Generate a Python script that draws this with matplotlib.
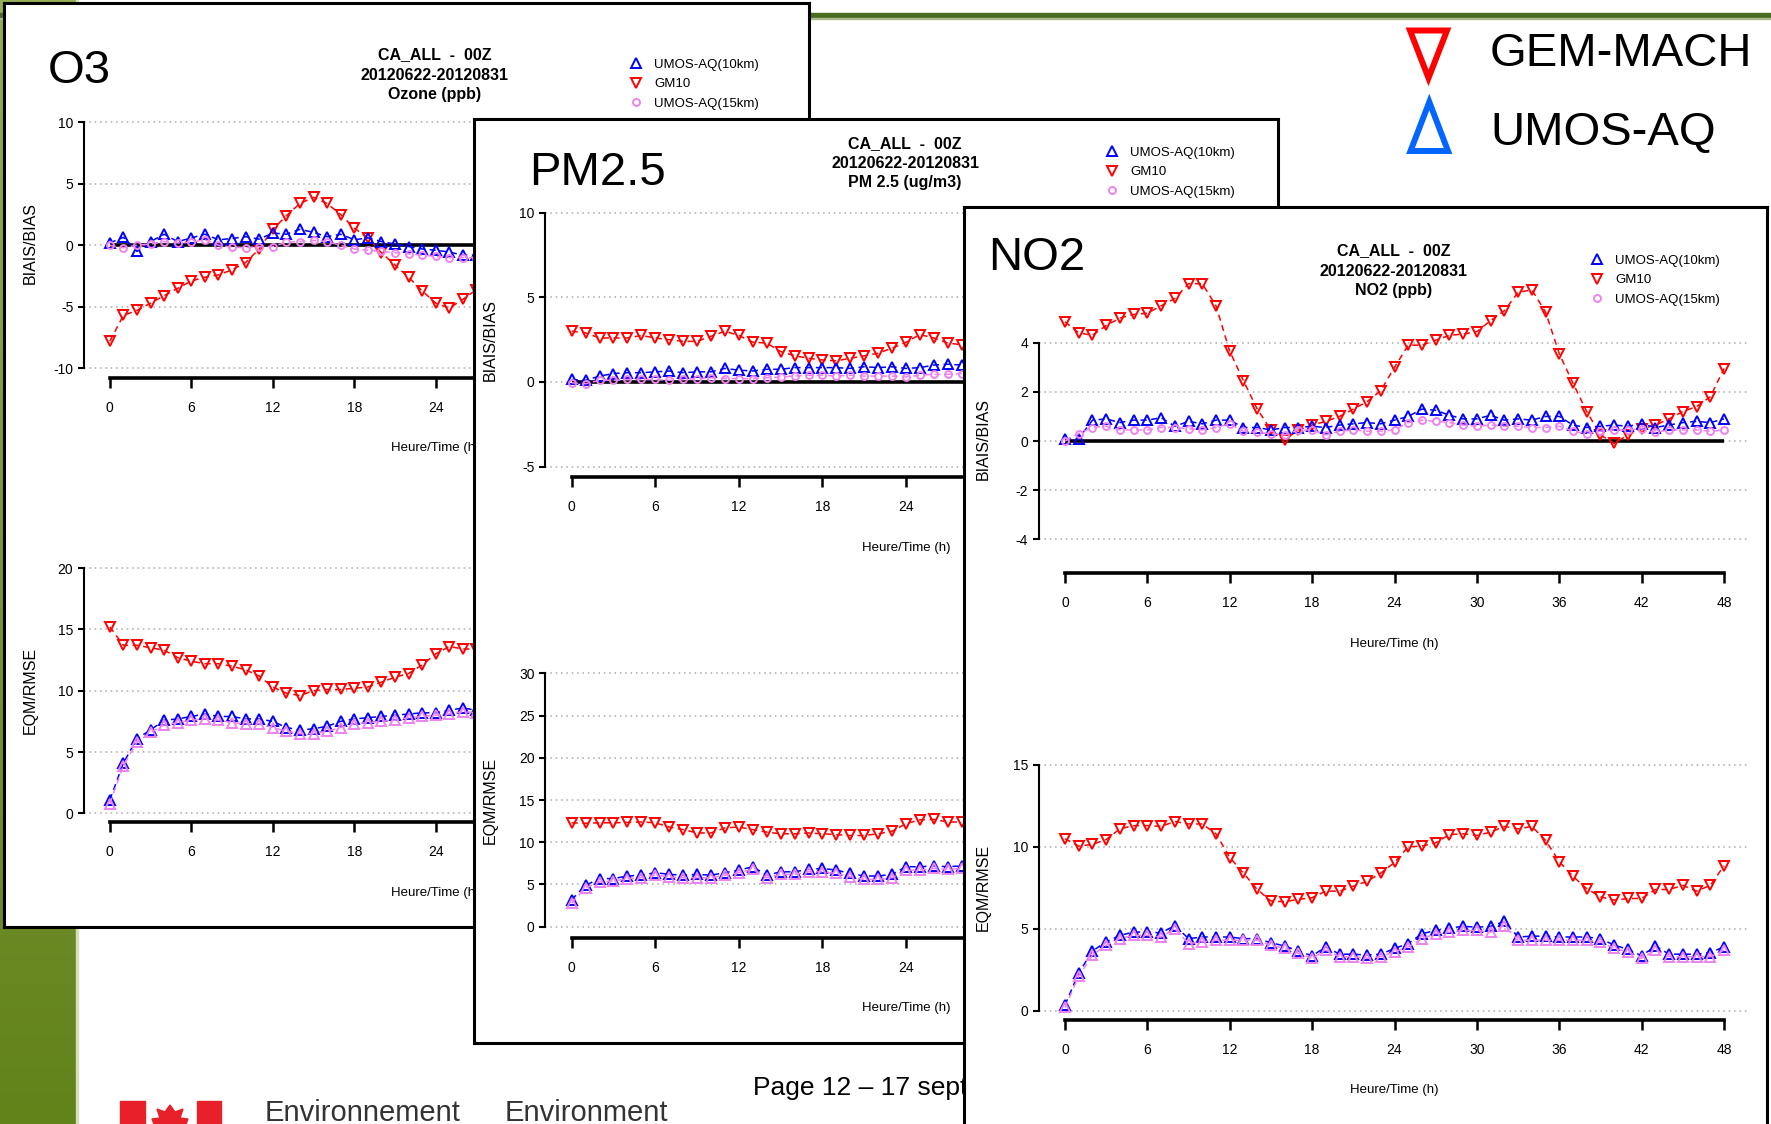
import numpy as np
import matplotlib.pyplot as plt
from matplotlib.patches import Rectangle, Polygon
from matplotlib.lines import Line2D
from matplotlib.colors import LinearSegmentedColormap

plt.rcParams['axes.unicode_minus'] = False
SANS = ['Liberation Sans', 'DejaVu Sans']

# ---- donnees (heures 0..n) ----
o3_bias_gm = [-7.8, -5.7, -5.3, -4.7, -4.1, -3.5, -2.9, -2.6, -2.4, -2.0, -1.4, -0.3, 1.3, 2.4,
              3.4, 3.9, 3.4, 2.5, 1.4, 0.6, -0.6, -1.6, -2.6, -3.7, -4.7, -5.1, -4.4, -3.6]
o3_bias_u10 = [0.2, 0.65, -0.5, 0.3, 0.9, 0.3, 0.6, 0.9, 0.45, 0.55, 0.7, 0.5, 1.0, 0.9,
               1.3, 1.05, 0.7, 0.9, 0.45, 0.6, 0.3, 0.1, -0.1, -0.3, -0.4, -0.55, -0.8, -0.8]
o3_bias_u15 = [0.0, -0.2, 0.0, 0.1, 0.3, 0.2, 0.25, 0.45, 0.0, -0.15, -0.2, -0.1, -0.1, 0.25,
               0.3, 0.4, 0.3, 0.0, -0.3, -0.4, -0.5, -0.6, -0.7, -0.8, -0.9, -1.0, -1.0, -1.0]

o3_rmse_gm = [15.2, 13.7, 13.7, 13.5, 13.3, 12.7, 12.4, 12.2, 12.2, 12.0, 11.7, 11.2, 10.3, 9.8,
              9.6, 10.0, 10.1, 10.1, 10.2, 10.3, 10.7, 11.1, 11.4, 12.1, 13.0, 13.6, 13.4, 13.4]
o3_rmse_u10 = [1.1, 4.1, 6.1, 6.8, 7.6, 7.7, 7.9, 8.1, 7.9, 7.9, 7.7, 7.7, 7.5, 7.0,
               6.8, 6.9, 7.1, 7.5, 7.7, 7.8, 7.9, 8.0, 8.1, 8.2, 8.2, 8.4, 8.6, 8.4]
o3_rmse_u15 = [0.8, 3.9, 5.8, 6.6, 7.2, 7.4, 7.6, 7.7, 7.6, 7.4, 7.3, 7.3, 7.0, 6.7,
               6.5, 6.5, 6.7, 7.0, 7.3, 7.4, 7.5, 7.6, 7.8, 7.9, 8.0, 8.1, 8.3, 8.2]

pm_bias_gm = [3.0, 2.9, 2.6, 2.6, 2.6, 2.75, 2.6, 2.5, 2.4, 2.4, 2.7, 3.0, 2.75, 2.35, 2.3,
              1.8, 1.55, 1.4, 1.3, 1.25, 1.4, 1.55, 1.7, 2.0, 2.35, 2.8, 2.6, 2.3, 2.2]
pm_bias_u10 = [0.15, 0.1, 0.35, 0.5, 0.55, 0.55, 0.6, 0.65, 0.55, 0.6, 0.6, 0.8, 0.7, 0.65, 0.75,
               0.75, 0.85, 0.85, 0.85, 0.85, 0.8, 0.9, 0.85, 0.9, 0.8, 0.85, 1.0, 1.05, 1.0]
pm_bias_u15 = [-0.05, -0.1, 0.1, 0.1, 0.15, 0.15, 0.15, 0.1, 0.15, 0.2, 0.25, 0.2, 0.2, 0.2, 0.25,
               0.3, 0.35, 0.4, 0.4, 0.35, 0.4, 0.35, 0.35, 0.35, 0.3, 0.4, 0.45, 0.45, 0.5]

pm_rmse_gm = [12.3, 12.25, 12.3, 12.3, 12.35, 12.4, 12.3, 11.8, 11.5, 11.1, 11.1, 11.7, 11.8, 11.5, 11.2,
              11.0, 11.0, 11.1, 11.0, 10.9, 10.8, 10.8, 11.0, 11.3, 12.2, 12.65, 12.7, 12.4, 12.4]
pm_rmse_u10 = [3.2, 4.9, 5.7, 5.7, 6.0, 6.1, 6.4, 6.2, 6.1, 6.2, 6.1, 6.4, 6.7, 7.1, 6.1,
               6.5, 6.5, 6.8, 6.9, 6.7, 6.3, 6.0, 6.0, 6.2, 7.1, 7.1, 7.2, 7.1, 7.2]
pm_rmse_u15 = [2.8, 4.6, 5.3, 5.4, 5.7, 5.8, 6.1, 5.9, 5.8, 5.8, 5.8, 6.1, 6.4, 6.8, 5.8,
               6.2, 6.2, 6.5, 6.5, 6.3, 5.9, 5.6, 5.6, 5.8, 6.7, 6.7, 6.9, 6.8, 6.9]

no2_bias_gm = [4.85, 4.4, 4.3, 4.7, 5.0, 5.15, 5.2, 5.5, 5.8, 6.4,
               6.4, 5.5, 3.65, 2.45, 1.3, 0.45, 0.05, 0.45, 0.65, 0.8,
               1.0, 1.3, 1.6, 2.05, 3.0, 3.9, 3.9, 4.1, 4.3, 4.35,
               4.45, 4.9, 5.3, 6.05, 6.15, 5.25, 3.55, 2.35, 1.2, 0.25,
               -0.1, 0.25, 0.5, 0.65, 0.9, 1.2, 1.4, 1.8, 2.95]
no2_bias_u10 = [0.1, 0.1, 0.85, 0.9, 0.75, 0.85, 0.85, 0.95, 0.6, 0.8,
                0.7, 0.85, 0.85, 0.55, 0.55, 0.45, 0.55, 0.55, 0.6, 0.55,
                0.65, 0.7, 0.75, 0.7, 0.85, 1.0, 1.3, 1.25, 1.05, 0.9,
                0.9, 1.05, 0.85, 0.9, 0.85, 1.0, 1.0, 0.65, 0.55, 0.6,
                0.65, 0.6, 0.7, 0.55, 0.65, 0.75, 0.8, 0.75, 0.9]
no2_bias_u15 = [0.0, 0.3, 0.55, 0.6, 0.45, 0.45, 0.45, 0.55, 0.55, 0.5,
                0.45, 0.55, 0.7, 0.4, 0.35, 0.3, 0.25, 0.45, 0.45, 0.25,
                0.4, 0.45, 0.4, 0.4, 0.45, 0.75, 0.85, 0.8, 0.75, 0.65,
                0.6, 0.65, 0.6, 0.6, 0.55, 0.55, 0.6, 0.4, 0.3, 0.4,
                0.45, 0.45, 0.5, 0.35, 0.45, 0.45, 0.45, 0.4, 0.45]

no2_rmse_gm = [10.5, 10.05, 10.15, 10.45, 11.1, 11.3, 11.3, 11.25, 11.55, 11.4,
               11.4, 10.8, 9.35, 8.4, 7.4, 6.7, 6.65, 6.8, 6.9, 7.3,
               7.3, 7.6, 7.9, 8.4, 9.05, 10.0, 10.05, 10.25, 10.75, 10.8,
               10.7, 10.9, 11.25, 11.1, 11.25, 10.4, 9.1, 8.2, 7.45, 6.95,
               6.75, 6.85, 6.85, 7.4, 7.4, 7.65, 7.3, 7.65, 8.85]
no2_rmse_u10 = [0.35, 2.3, 3.65, 4.2, 4.6, 4.8, 4.8, 4.75, 5.2, 4.4,
                4.5, 4.5, 4.5, 4.4, 4.4, 4.15, 3.95, 3.65, 3.35, 3.9,
                3.45, 3.45, 3.4, 3.45, 3.8, 4.1, 4.7, 4.9, 5.05, 5.15,
                5.1, 5.15, 5.45, 4.5, 4.55, 4.55, 4.5, 4.5, 4.5, 4.4,
                4.0, 3.75, 3.35, 3.95, 3.45, 3.45, 3.45, 3.55, 3.9]
no2_rmse_u15 = [0.2, 2.1, 3.4, 4.0, 4.4, 4.6, 4.6, 4.5, 5.0, 4.1,
                4.2, 4.3, 4.3, 4.3, 4.3, 4.0, 3.8, 3.5, 3.2, 3.7,
                3.3, 3.3, 3.2, 3.3, 3.6, 3.9, 4.4, 4.7, 4.8, 4.9,
                4.9, 4.8, 5.2, 4.3, 4.3, 4.3, 4.3, 4.3, 4.3, 4.2,
                3.8, 3.6, 3.2, 3.7, 3.3, 3.3, 3.3, 3.3, 3.7]

x_ticks = [0, 6, 12, 18, 24, 30, 36, 42, 48]
legend_labels = ['UMOS-AQ(10km)', 'GM10', 'UMOS-AQ(15km)']
title_l1 = 'CA_ALL  -  00Z'
title_l2 = '20120622-20120831'

RED, BLUE, VIOLET = '#ff0000', '#0000ff', '#ee82ee'
XLIM = (-1.92, 49.92)
W, H = 1771, 1124

fig = plt.figure(figsize=(W / 100, H / 100), dpi=100)


def px_box(l, t, r, b):
    return [l / W, 1 - b / H, (r - l) / W, (b - t) / H]


def panel(l, t, r, b):
    """cadre blanc d'une capture d'ecran, en coordonnees pixels"""
    ax = fig.add_axes(px_box(l, t, r, b))
    ax.set_xlim(l, r); ax.set_ylim(b, t)
    ax.set_xticks([]); ax.set_yticks([])
    ax.set_facecolor('white')
    for s in ax.spines.values():
        s.set_linewidth(2.2)
    return ax


def data_axes(x0, pph, v_ref, y_ref, ppv, y_axis, ymax, yticks):
    """axes style R: x0 = pixel de h=0, pph = pixels/heure, y_axis = ligne de l'axe x"""
    left = x0 + XLIM[0] * pph
    right = x0 + XLIM[1] * pph
    top = y_ref - (ymax - v_ref) * ppv
    ymin = v_ref - (y_axis - y_ref) / ppv
    ax = fig.add_axes(px_box(left, top, right, y_axis))
    ax.set_xlim(XLIM); ax.set_ylim(ymin, ymax)
    ax.set_facecolor('none')
    ax.spines['top'].set_visible(False)
    ax.spines['right'].set_visible(False)
    ax.spines['left'].set_bounds(yticks[0], yticks[-1])
    ax.spines['left'].set_linewidth(1.5)
    ax.spines['bottom'].set_bounds(0, 48)
    ax.spines['bottom'].set_linewidth(2.6)
    ax.set_xticks(x_ticks)
    ax.set_yticks(yticks)
    ax.tick_params(axis='x', length=7.5, width=1.8, pad=9, labelsize=10, labelfontfamily=SANS)
    ax.tick_params(axis='y', length=4.5, width=1.5, pad=3, labelsize=10, labelfontfamily=SANS)
    for v in yticks:
        ax.axhline(v, color='#aaaaaa', ls=(0, (1, 2.5)), lw=1.1, zorder=0)
    return ax


def draw_series(ax, gm, u10, u15, rmse=False):
    hours = np.arange(len(gm))
    if not rmse:
        ax.hlines(0, 0, 48, color='black', lw=2.6, zorder=1)
    kw = dict(ls=(0, (4, 3)), lw=1.1, mfc='none', mew=1.4, zorder=3)
    ax.plot(hours, gm, color=RED, marker='v', ms=7, **kw)
    ax.plot(hours, u10, color=BLUE, marker='^', ms=7, **kw)
    if rmse:
        ax.plot(hours, u15, color=VIOLET, marker='^', ms=7, **kw)
    else:
        ax.plot(hours, u15, color=VIOLET, marker='o', ms=5, **kw)


def panel_text(p, name, name_x, name_y, tx, ty, subtitle, lx, ly, ylab_x, ylab_y, xlab_x, xlab_y):
    p.text(name_x, name_y, name, fontsize=34, family=SANS, ha='left', va='baseline')
    for y, s in zip(ty, [title_l1, title_l2, subtitle]):
        p.text(tx, y, s, fontsize=11.5, family=SANS, fontweight='bold', ha='center', va='baseline')
    handles = [Line2D([], [], color=BLUE, marker='^', ls='none', mfc='none', mew=1.4, ms=7),
               Line2D([], [], color=RED, marker='v', ls='none', mfc='none', mew=1.4, ms=7),
               Line2D([], [], color=VIOLET, marker='o', ls='none', mfc='none', mew=1.4, ms=5)]
    p.legend(handles, legend_labels, loc='upper left', bbox_to_anchor=(lx, ly),
             bbox_transform=p.transData, frameon=False, borderpad=0, borderaxespad=0,
             handlelength=1.1, handletextpad=0.8, labelspacing=0.55,
             prop={'family': SANS, 'size': 9.5})
    for y, s in zip(ylab_y, ['BIAIS/BIAS', 'EQM/RMSE']):
        p.text(ylab_x, y, s, rotation=90, fontsize=11.5, family=SANS, ha='center', va='center')
    for y in xlab_y:
        p.text(xlab_x, y, 'Heure/Time (h)', fontsize=9.5, family=SANS, ha='center', va='center')


# ---- fond de la diapositive ----
bg = fig.add_axes([0, 0, 1, 1])
bg.set_xlim(0, W); bg.set_ylim(H, 0); bg.axis('off')
green = LinearSegmentedColormap.from_list('g', ['#94ad52', '#7a9636', '#62821a'])
bg.imshow(np.linspace(0, 1, 256)[:, None], cmap=green, extent=(0, 76, H, 0), aspect='auto')
bg.add_patch(Rectangle((76, 0), 2, H, color='#d6e0b8'))
bg.add_patch(Rectangle((0, 12.5), W, 5, color='#4b6b23'))
bg.add_patch(Rectangle((0, 17.5), W, 1, color='#a9bb8c'))
bg.set_xlim(0, W); bg.set_ylim(H, 0)

# legende generale
bg.add_patch(Polygon([(1410, 30.5), (1447, 30.5), (1428.5, 78)], closed=True, fill=False,
                     ec='#ff0000', lw=4.3, joinstyle='miter'))
bg.add_patch(Polygon([(1410.5, 151), (1448, 151), (1429.3, 102)], closed=True, fill=False,
                     ec='#0066ff', lw=4.3, joinstyle='miter'))
bg.text(1490, 66.5, 'GEM-MACH', fontsize=34, family=SANS, ha='left', va='baseline')
bg.text(1490, 144.5, 'UMOS-AQ', fontsize=34, family=SANS, ha='left', va='baseline')

# pied de page
bg.add_patch(Rectangle((120, 1101), 25, 30, color='#e8202a'))
bg.add_patch(Rectangle((197, 1101), 24, 30, color='#e8202a'))
bg.add_patch(Polygon([(170, 1105), (175, 1112), (183, 1109), (180, 1118), (188, 1119),
                      (186, 1124), (154, 1124), (152, 1119), (160, 1118), (157, 1109),
                      (165, 1112)], closed=True, color='#e8202a'))
bg.text(265, 1121, 'Environnement', fontsize=21, family=SANS, color='#333333', va='baseline')
bg.text(505, 1121, 'Environment', fontsize=21, family=SANS, color='#333333', va='baseline')
bg.text(753, 1095, 'Page 12 \u2013 17 septembre 2012', fontsize=19, family=SANS, va='baseline')

# ---- O3 ----
p = panel(4, 3, 809, 927)
panel_text(p, 'O3', 48, 83.3, 435, [59.5, 79.5, 99], 'Ozone (ppb)', 629, 58.5,
           30, [243, 690], 435, [448, 893])
ax = data_axes(109.8, 13.58, 10, 122.3, 12.3, 377.7, 10.8, [-10, -5, 0, 5, 10])
draw_series(ax, o3_bias_gm, o3_bias_u10, o3_bias_u15)
ax = data_axes(109.8, 13.58, 20, 568, 12.27, 822.3, 20.8, [0, 5, 10, 15, 20])
draw_series(ax, o3_rmse_gm, o3_rmse_u10, o3_rmse_u15, rmse=True)

# ---- PM2.5 ----
p = panel(473.5, 118.5, 1277.5, 1042.5)
panel_text(p, 'PM2.5', 529, 185, 905, [148, 168, 187.5], 'PM 2.5 (ug/m3)', 1105, 146.5,
           490, [340, 800], 906, [548, 1008])
ax = data_axes(571.7, 13.93, 10, 212.7, 16.93, 476.7, 10.6, [-5, 0, 5, 10])
draw_series(ax, pm_bias_gm, pm_bias_u10, pm_bias_u15)
ax = data_axes(571.7, 13.93, 30, 673.3, 8.447, 938.3, 31, [0, 5, 10, 15, 20, 25, 30])
draw_series(ax, pm_rmse_gm, pm_rmse_u10, pm_rmse_u15, rmse=True)

# ---- NO2 ----
p = panel(964, 207, 1767, 1160)
panel_text(p, 'NO2', 988, 270, 1394, [255.5, 275.5, 295], 'NO2 (ppb)', 1590, 254.5,
           983, [439, 887], 1394, [644, 1090])
ax = data_axes(1065, 13.73, 4, 342.7, 24.58, 573.3, 7, [-4, -2, 0, 2, 4])
draw_series(ax, no2_bias_gm, no2_bias_u10, no2_bias_u15)
ax = data_axes(1065, 13.73, 15, 765, 16.38, 1020, 15.6, [0, 5, 10, 15])
draw_series(ax, no2_rmse_gm, no2_rmse_u10, no2_rmse_u15, rmse=True)

fig.savefig('out.png', dpi=100)
